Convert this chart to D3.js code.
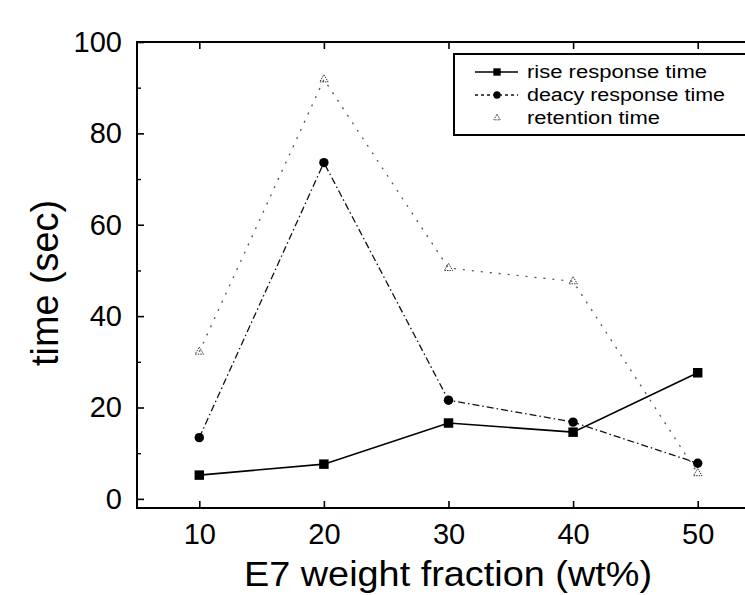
<!DOCTYPE html>
<html>
<head>
<meta charset="utf-8">
<script src="https://cdn.jsdelivr.net/npm/d3@7"></script>
<style>
  body { margin: 0; background: #fff; }
  svg { display: block; font-family: Arial, "Liberation Sans", sans-serif; }
</style>
</head>
<body>
<div id="chart"></div>
<script>
// values
const fractions = [10, 20, 30, 40, 50];
const riseTime = [5.2, 7.6, 16.6, 14.6, 27.6];
const decayTime = [13.4, 73.6, 21.6, 16.8, 7.8];
const retentionTime = [32.2, 91.8, 50.5, 47.6, 5.6];
const xTicks = [10, 20, 30, 40, 50];
const yTicks = [0, 20, 40, 60, 80, 100];
const yMinorTicks = [10, 30, 50, 70, 90];
const seriesNames = ["rise response time", "deacy response time", "retention time"];

const W = 745, H = 595;
const margin = { top: 42, right: -15, bottom: 87, left: 137 };
const width = W - margin.left - margin.right,
      height = H - margin.top - margin.bottom;

const svg = d3.select("#chart").append("svg")
    .attr("width", W).attr("height", H);

const g = svg.append("g").attr("transform", `translate(${margin.left},${margin.top})`);

// scales
const x = d3.scaleLinear().domain([5, 55]).range([0, width]);
const y = d3.scaleLinear().domain([-2, 100]).range([height, 0]);

// frame
g.append("rect")
    .attr("width", width).attr("height", height)
    .attr("fill", "none").attr("stroke", "#000").attr("stroke-width", 2);

function labelStyle(sel) {
    sel.attr("font-size", 29).attr("fill", "#000")
        .attr("font-family", "Arial, 'Liberation Sans', sans-serif");
}

// ticks (inward)
g.append("g").attr("transform", `translate(0,${height})`)
    .call(d3.axisBottom(x).tickValues(xTicks).tickSize(-7).tickPadding(15).tickFormat(d3.format("d")))
    .call(a => a.select(".domain").remove())
    .call(a => a.selectAll("line").attr("stroke-width", 1.6))
    .call(a => a.selectAll("text").call(labelStyle));

g.append("g")
    .call(d3.axisTop(x).tickValues(xTicks).tickSize(-7).tickFormat(""))
    .call(a => a.select(".domain").remove())
    .call(a => a.selectAll("line").attr("stroke-width", 1.6));

g.append("g")
    .call(d3.axisLeft(y).tickValues(yTicks).tickSize(-7).tickPadding(15).tickFormat(d3.format("d")))
    .call(a => a.select(".domain").remove())
    .call(a => a.selectAll("line").attr("stroke-width", 1.6))
    .call(a => a.selectAll("text").call(labelStyle));

g.append("g")
    .call(d3.axisLeft(y).tickValues(yMinorTicks).tickSize(-4).tickFormat(""))
    .call(a => a.select(".domain").remove())
    .call(a => a.selectAll("line").attr("stroke-width", 1.4));

// axis titles
svg.append("text")
    .attr("x", 448).attr("y", 586)
    .attr("text-anchor", "middle")
    .attr("font-size", 35)
    .attr("textLength", 408)
    .attr("lengthAdjust", "spacingAndGlyphs")
    .text("E7 weight fraction (wt%)");

svg.append("text")
    .attr("transform", "translate(58,283) rotate(-90)")
    .attr("text-anchor", "middle")
    .attr("font-size", 38)
    .attr("textLength", 166)
    .attr("lengthAdjust", "spacingAndGlyphs")
    .text("time (sec)");

// series
const series = [
    { name: seriesNames[0], values: riseTime, dash: null, stroke: "#000", width: 1.6, symbol: d3.symbolSquare, size: 90, fill: "#000", textLen: 180 },
    { name: seriesNames[1], values: decayTime, dash: "7,3,1.5,3", stroke: "#111", width: 1.3, symbol: d3.symbolCircle, size: 70, fill: "#000", textLen: 198 },
    { name: seriesNames[2], values: retentionTime, dash: "2,7", stroke: "#555", width: 1.3, symbol: d3.symbolTriangle, size: 30, fill: "none", textLen: 133 }
];

const line = d3.line().x(d => x(d.x)).y(d => y(d.y));

series.forEach(s => {
    const pts = fractions.map((f, i) => ({ x: f, y: s.values[i] }));
    g.append("path")
        .datum(pts)
        .attr("d", line)
        .attr("fill", "none")
        .attr("stroke", s.stroke)
        .attr("stroke-width", s.width)
        .attr("stroke-dasharray", s.dash);

    g.selectAll(null).data(pts).enter().append("path")
        .attr("transform", d => `translate(${x(d.x)},${y(d.y)})`)
        .attr("d", d3.symbol().type(s.symbol).size(s.size))
        .attr("fill", s.fill)
        .attr("stroke", s.fill === "none" ? "#333" : "none")
        .attr("stroke-width", 1)
        .attr("stroke-dasharray", s.fill === "none" ? "1.5,1" : null);
});

// legend
const legend = svg.append("g").attr("transform", "translate(454,54)");
legend.append("rect")
    .attr("width", 300).attr("height", 81)
    .attr("fill", "#fff").attr("stroke", "#000").attr("stroke-width", 2);

series.forEach((s, i) => {
    const ly = 18 + i * 23;
    if (i < 2) {
        legend.append("line")
            .attr("x1", 21).attr("x2", 64).attr("y1", ly).attr("y2", ly)
            .attr("stroke", s.stroke).attr("stroke-width", s.width)
            .attr("stroke-dasharray", i === 1 ? "3,3" : null);
    }
    legend.append("path")
        .attr("transform", `translate(43,${ly})`)
        .attr("d", d3.symbol().type(s.symbol).size(s.size * 0.6))
        .attr("fill", s.fill)
        .attr("stroke", s.fill === "none" ? "#333" : "none")
        .attr("stroke-width", 1)
        .attr("stroke-dasharray", s.fill === "none" ? "1.5,1" : null);
    legend.append("text")
        .attr("x", 73).attr("y", ly + 6)
        .attr("font-size", 18)
        .attr("textLength", s.textLen)
        .attr("lengthAdjust", "spacingAndGlyphs")
        .text(s.name);
});
</script>
</body>
</html>
